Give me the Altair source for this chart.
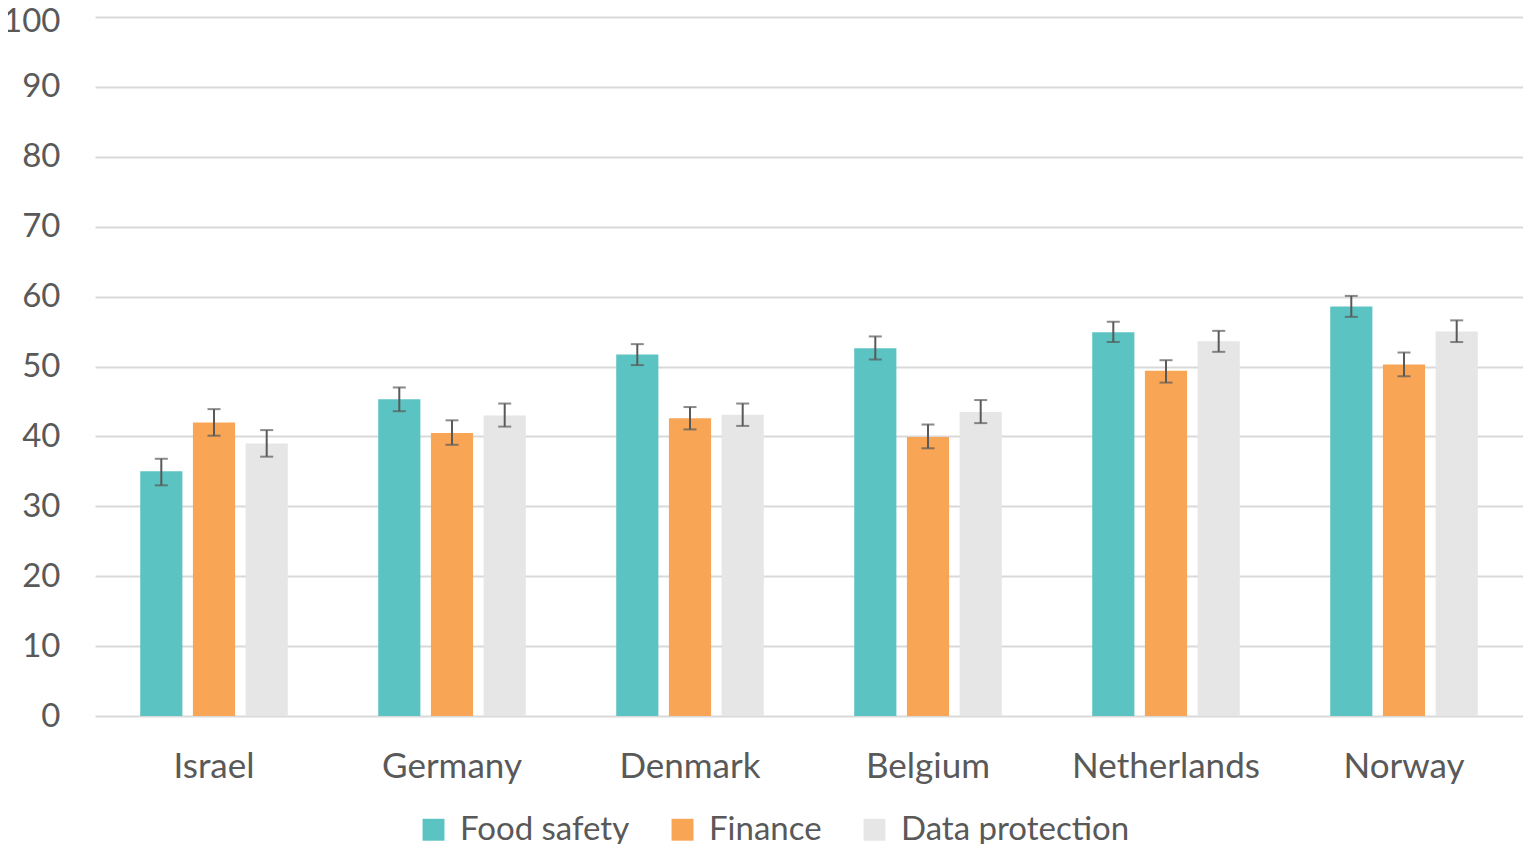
import altair as alt
import pandas as pd

countries = ["Israel", "Germany", "Denmark", "Belgium", "Netherlands", "Norway"]
series = ["Food safety", "Finance", "Data protection"]
colors = ["#5BC3C2", "#F8A656", "#E6E6E6"]

food = [35.0, 45.3, 51.7, 52.6, 54.9, 58.6]
food_lo = [33.0, 43.6, 50.2, 51.0, 53.5, 57.1]
food_hi = [36.8, 47.0, 53.2, 54.3, 56.4, 60.1]

finance = [42.0, 40.5, 42.6, 39.9, 49.4, 50.3]
finance_lo = [40.1, 38.8, 41.0, 38.3, 47.7, 48.6]
finance_hi = [43.9, 42.3, 44.2, 41.7, 50.9, 52.0]

data_prot = [39.0, 43.0, 43.1, 43.5, 53.6, 55.0]
data_lo = [37.1, 41.4, 41.5, 41.9, 52.1, 53.5]
data_hi = [40.9, 44.7, 44.7, 45.2, 55.1, 56.6]

rows = []
for s, vals, los, his in [
    (series[0], food, food_lo, food_hi),
    (series[1], finance, finance_lo, finance_hi),
    (series[2], data_prot, data_lo, data_hi),
]:
    for c, v, lo, hi in zip(countries, vals, los, his):
        rows.append({"country": c, "series": s, "value": v, "lo": lo, "hi": hi})
df = pd.DataFrame(rows)

FONT = "Lato"
GREY = "#595959"

x = alt.X("country:N", sort=countries, title=None,
          scale=alt.Scale(paddingInner=0.38, paddingOuter=0.19),
          axis=alt.Axis(labelAngle=0, labelFontSize=35, labelColor=GREY, labelFont=FONT,
                        labelPadding=33, labelLimit=400, ticks=False, domain=False, grid=False))
xoff = alt.XOffset("series:N", sort=series,
                   scale=alt.Scale(paddingInner=0.2, paddingOuter=0))

bars = alt.Chart(df).mark_bar().encode(
    x=x,
    xOffset=xoff,
    y=alt.Y("value:Q", title=None,
            scale=alt.Scale(domain=[0, 100], nice=False),
            axis=alt.Axis(values=list(range(0, 101, 10)), labelFontSize=33, labelColor=GREY,
                          labelFont=FONT, labelPadding=35, ticks=False, domain=False,
                          labelOffset=alt.condition("datum.value == 100", alt.value(4), alt.value(0)),
                          gridColor="#D9D9D9", gridWidth=2)),
    color=alt.Color("series:N", sort=series,
                    scale=alt.Scale(domain=series, range=colors),
                    legend=alt.Legend(title=None, orient="none", direction="horizontal",
                                      legendX=322, legendY=796, symbolType="square",
                                      symbolSize=480, symbolStrokeWidth=0, labelFontSize=33,
                                      labelFont=FONT, labelColor=GREY, columnPadding=36,
                                      labelOffset=10, symbolOpacity=1, labelLimit=400)),
)

rules = alt.Chart(df).mark_rule(color=GREY, strokeWidth=2).encode(
    x=x, xOffset=xoff, y="lo:Q", y2="hi:Q")

caps_lo = alt.Chart(df).mark_tick(color=GREY, thickness=2, size=13, orient="horizontal").encode(
    x=x, xOffset=xoff, y="lo:Q")
caps_hi = alt.Chart(df).mark_tick(color=GREY, thickness=2, size=13, orient="horizontal").encode(
    x=x, xOffset=xoff, y="hi:Q")

chart = alt.layer(bars, rules, caps_lo, caps_hi).properties(
    width=1428, height=699,
    autosize=alt.AutoSizeParams(type="none"),
    padding={"left": 87, "top": 9, "right": 0, "bottom": 128},
).configure(font=FONT).configure_view(stroke=None, strokeWidth=0)

chart.save("out.html", embed_options={"renderer": "svg", "actions": False})
